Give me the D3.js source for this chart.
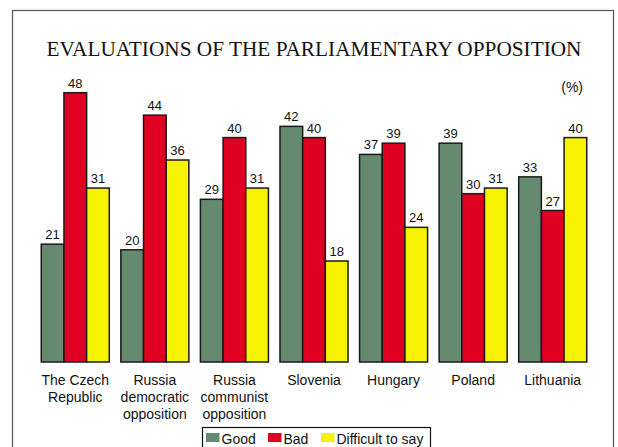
<!DOCTYPE html>
<html><head><meta charset="utf-8">
<script src="https://cdn.jsdelivr.net/npm/d3@7"></script>
<style>body{margin:0;background:#fff}svg{display:block}</style>
</head><body>
<script>
const categories = [["The Czech","Republic"],["Russia","democratic","opposition"],["Russia","communist","opposition"],["Slovenia"],["Hungary"],["Poland"],["Lithuania"]];
const seriesNames = ["Good","Bad","Difficult to say"];
const good = [21,20,29,42,37,39,33];
const bad = [48,44,40,40,39,30,27];
const difficult = [31,36,31,18,24,31,40];
const colors = ["#668a6f","#e00021","#f7f200"];

const W = 618, H = 447;
const svg = d3.select("body").append("svg").attr("width", W).attr("height", H);
svg.append("rect").attr("width", W).attr("height", H).attr("fill", "#fff");
svg.append("rect").attr("x", 12.5).attr("y", 10.5).attr("width", 601).attr("height", 460)
  .attr("fill", "none").attr("stroke", "#555").attr("stroke-width", 1.2);

svg.append("text").attr("x", 314).attr("y", 56).attr("text-anchor", "middle")
  .attr("font-family", "Liberation Serif, Times New Roman, serif").attr("font-size", 21)
  .attr("textLength", 535).attr("lengthAdjust", "spacingAndGlyphs")
  .attr("fill", "#111").text("EVALUATIONS OF THE PARLIAMENTARY OPPOSITION");
svg.append("text").attr("x", 583).attr("y", 92).attr("text-anchor", "end")
  .attr("font-family", "Liberation Sans, Arial, sans-serif").attr("font-size", 14)
  .attr("fill", "#111").text("(%)");

const idx = d3.range(categories.length);
const x0 = d3.scaleBand().domain(idx).range([35.5, 592.5]).paddingInner(0.145).paddingOuter(0.0725);
const x1 = d3.scaleBand().domain(d3.range(3)).range([0, x0.bandwidth()]);
const y = d3.scaleLinear().domain([0, 48]).range([362, 92.7]);

const data = [good, bad, difficult];
const g = svg.append("g");
idx.forEach(i => {
  data.forEach((s, j) => {
    const bx = x0(i) + x1(j);
    g.append("rect").attr("x", bx).attr("y", y(s[i])).attr("width", x1.bandwidth())
      .attr("height", y(0) - y(s[i])).attr("fill", colors[j])
      .attr("stroke", "#1a1a1a").attr("stroke-width", 1.5);
  });
});
idx.forEach(i => {
  data.forEach((s, j) => {
    const bx = x0(i) + x1(j) + x1.bandwidth() / 2;
    g.append("text").attr("x", bx).attr("y", y(s[i]) - 5).attr("text-anchor", "middle")
      .attr("font-family", "Liberation Sans, Arial, sans-serif").attr("font-size", 13)
      .attr("fill", "#111").text(s[i]);
  });
  const t = g.append("text").attr("text-anchor", "middle")
    .attr("font-family", "Liberation Sans, Arial, sans-serif").attr("font-size", 14).attr("fill", "#111");
  categories[i].forEach((line, k) => {
    t.append("tspan").attr("x", x0(i) + x0.bandwidth() / 2).attr("y", 385 + k * 17).text(line);
  });
});

// legend
const lg = svg.append("g");
lg.append("rect").attr("x", 202.5).attr("y", 427.5).attr("width", 228).attr("height", 30)
  .attr("fill", "#fff").attr("stroke", "#111").attr("stroke-width", 1.2);
const legX = [206, 268, 321];
seriesNames.forEach((n, j) => {
  lg.append("rect").attr("x", legX[j]).attr("y", 433).attr("width", 13.5).attr("height", 9).attr("fill", colors[j]);
  lg.append("text").attr("x", legX[j] + 15.5).attr("y", 443.5)
    .attr("font-family", "Liberation Sans, Arial, sans-serif").attr("font-size", 14)
    .attr("fill", "#111").text(n);
});
</script>
</body></html>
